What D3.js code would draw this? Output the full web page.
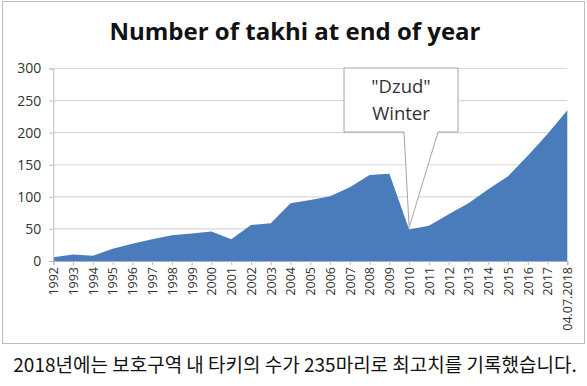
<!DOCTYPE html>
<html>
<head>
<meta charset="utf-8">
<script src="https://cdn.jsdelivr.net/npm/d3@7"></script>
<style>
  body { margin: 0; background: #fff; }
</style>
</head>
<body>
<svg id="chart" width="587" height="386"></svg>
<script>
const years = ['1992', '1993', '1994', '1995', '1996', '1997', '1998', '1999', '2000',
  '2001', '2002', '2003', '2004', '2005', '2006', '2007', '2008', '2009', '2010',
  '2011', '2012', '2013', '2014', '2015', '2016', '2017', '04.07.2018'];
const takhi = [6, 10, 8, 19, 27, 34, 40, 43, 46,
  34, 56, 59, 90, 95, 101, 115, 134, 136, 49,
  55, 73, 90, 112, 132, 164, 198, 235];
const yTicks = [0, 50, 100, 150, 200, 250, 300];
const title = 'Number of takhi at end of year';
const calloutLines = ['"Dzud"', 'Winter'];
const calloutYear = '2010';
const caption = '2018년에는 보호구역 내 타키의 수가 235마리로 최고치를 기록했습니다.';

const svg = d3.select('#chart');
const font = '"Open Sans", "Liberation Sans", sans-serif';

// chart frame
svg.append('rect')
  .attr('x', 2.5).attr('y', 1.5)
  .attr('width', 582).attr('height', 342)
  .attr('fill', '#fff')
  .attr('stroke', '#bdbdbd');

svg.append('text')
  .attr('x', 295).attr('y', 40)
  .attr('text-anchor', 'middle')
  .attr('font-family', font)
  .attr('font-weight', 'bold')
  .attr('font-size', 24)
  .attr('fill', '#111')
  .text(title);

const margin = { left: 53.3, right: 567.3, top: 68.5, bottom: 261 };
const x = d3.scalePoint().domain(years).range([margin.left, margin.right]);
const y = d3.scaleLinear().domain([0, 300]).range([margin.bottom, margin.top]);

// gridlines
svg.append('g')
  .selectAll('line')
  .data(yTicks.filter(d => d > 0))
  .join('line')
  .attr('x1', margin.left).attr('x2', margin.right)
  .attr('y1', d => y(d)).attr('y2', d => y(d))
  .attr('stroke', '#d9d9d9')
  .attr('stroke-width', 1.2);

// area
const area = d3.area()
  .x((d, i) => x(years[i]))
  .y0(y(0))
  .y1(d => y(d));
svg.append('path')
  .datum(takhi)
  .attr('fill', '#4a7cbc')
  .attr('d', area);

// y axis
const yAxis = svg.append('g')
  .attr('transform', `translate(${margin.left},0)`)
  .call(d3.axisLeft(y).tickValues(yTicks).tickSize(4).tickPadding(8));
yAxis.select('.domain').attr('stroke', '#bfbfbf');
yAxis.selectAll('.tick line').attr('stroke', '#bfbfbf');
yAxis.selectAll('.tick text')
  .attr('font-family', font)
  .attr('font-size', 14)
  .attr('fill', '#333');

// x axis
const xAxis = svg.append('g')
  .attr('transform', `translate(0,${margin.bottom})`)
  .call(d3.axisBottom(x).tickSize(4).tickPadding(0));
xAxis.select('.domain').attr('stroke', '#9fb4d6');
xAxis.selectAll('.tick line').attr('stroke', '#bfbfbf');
xAxis.selectAll('.tick text')
  .attr('font-family', font)
  .attr('font-size', 12.5)
  .attr('fill', '#333')
  .attr('text-anchor', 'end')
  .attr('dy', '0.35em')
  .attr('transform', 'translate(0,6) rotate(-90)')
  .attr('x', 0).attr('y', 0);

// callout
const box = { x0: 344, x1: 458, y0: 68, y1: 132 };
const tipX = x(calloutYear);
const tipY = y(takhi[years.indexOf(calloutYear)]) - 2;
const baseL = 404, baseR = 438;
svg.append('path')
  .attr('d', `M${box.x0},${box.y0}H${box.x1}V${box.y1}H${baseR}L${tipX},${tipY}L${baseL},${box.y1}H${box.x0}Z`)
  .attr('fill', '#fff')
  .attr('stroke', '#a6a6a6')
  .attr('stroke-width', 1);
svg.append('text')
  .attr('font-family', font)
  .attr('font-size', 18.5)
  .attr('fill', '#333')
  .attr('text-anchor', 'middle')
  .selectAll('tspan')
  .data(calloutLines)
  .join('tspan')
  .attr('x', (box.x0 + box.x1) / 2)
  .attr('y', (d, i) => 93 + i * 27)
  .text(d => d);

// caption
svg.append('text')
  .attr('x', 295).attr('y', 372)
  .attr('text-anchor', 'middle')
  .attr('font-family', '"Noto Sans CJK KR", sans-serif')
  .attr('font-size', 19)
  .attr('fill', '#111')
  .text(caption);
</script>
</body>
</html>
